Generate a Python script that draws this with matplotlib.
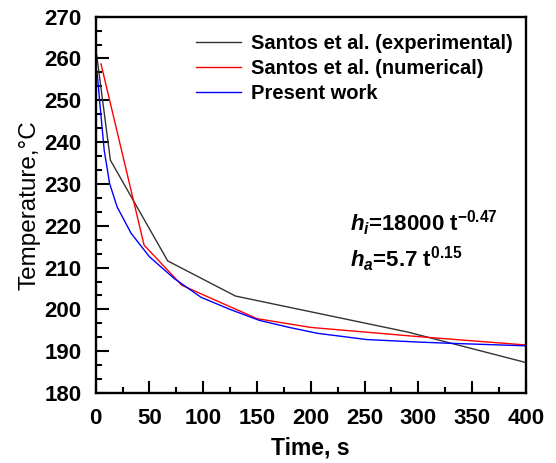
import matplotlib
matplotlib.use('Agg')
import matplotlib.pyplot as plt
from matplotlib.ticker import MultipleLocator, AutoMinorLocator

plt.rcParams['font.family'] = 'Liberation Sans'
plt.rcParams['mathtext.fontset'] = 'custom'
plt.rcParams['mathtext.rm'] = 'Liberation Sans:bold'
plt.rcParams['mathtext.it'] = 'Liberation Sans:italic:bold'

# Santos et al. experimental
t_exp = [1, 13.7, 67, 130, 290, 400]
T_exp = [260.8, 235.7, 211.6, 203.2, 194.6, 187.3]

# Santos et al. numerical
t_num = [5, 45, 80, 100, 150, 200, 250, 300, 350, 400]
T_num = [258.7, 215.4, 205.8, 203.5, 197.8, 195.7, 194.6, 193.5, 192.5, 191.5]

# present work
t_pw = [1, 2, 4, 8, 13, 20, 33, 50, 73, 98, 125, 152, 180, 206, 252, 300, 330, 400]
T_pw = [257, 255, 249, 238, 230.1, 224.5, 218.2, 212.6, 207.4, 202.9, 200, 197.4,
        195.7, 194.3, 192.8, 192.2, 191.9, 191.3]

fig = plt.figure(figsize=(5.56, 4.63), dpi=100)
ax = fig.add_axes([0.172, 0.151, 0.774, 0.813])

ax.plot(t_exp, T_exp, color='#333333', lw=1.0, label='Santos et al. (experimental)')
ax.plot(t_num, T_num, color='#ff0000', lw=1.0, label='Santos et al. (numerical)')
ax.plot(t_pw, T_pw, color='#0000ff', lw=1.0, label='Present work')

ax.set_xlim(0, 400)
ax.set_ylim(180, 270)
ax.xaxis.set_major_locator(MultipleLocator(50))
ax.xaxis.set_minor_locator(AutoMinorLocator(2))
ax.yaxis.set_major_locator(MultipleLocator(10))
ax.yaxis.set_minor_locator(AutoMinorLocator(3))
ax.tick_params(which='both', direction='in', width=1.5, top=False, right=False)
ax.tick_params(which='major', length=9, labelsize=16)
ax.tick_params(which='minor', length=4.5)
ax.tick_params(axis='x', which='major', pad=11)
ax.tick_params(axis='y', which='major', pad=10)
for lab in ax.get_xticklabels() + ax.get_yticklabels():
    lab.set_fontweight('bold')
for s in ax.spines.values():
    s.set_linewidth(1.7)

ax.set_xlabel('Time, s', fontsize=16.5, fontweight='bold', labelpad=5)
ax.set_ylabel('Temperature,°C', fontsize=17.5, labelpad=3)

ax.legend(loc='upper right', frameon=False, prop={'size': 14.5, 'weight': 'bold'},
          handlelength=2.2, handletextpad=0.5, labelspacing=0.3,
          bbox_to_anchor=(0.997, 0.985), borderaxespad=0.2)

ax.text(0.59, 0.43, r'$h_i$=18000 t$^{\mathrm{-0.47}}$', transform=ax.transAxes,
        fontsize=16, fontweight='bold')
ax.text(0.59, 0.335, r'$h_a$=5.7 t$^{\mathrm{0.15}}$', transform=ax.transAxes,
        fontsize=16, fontweight='bold')

plt.savefig('out.png', dpi=100)
